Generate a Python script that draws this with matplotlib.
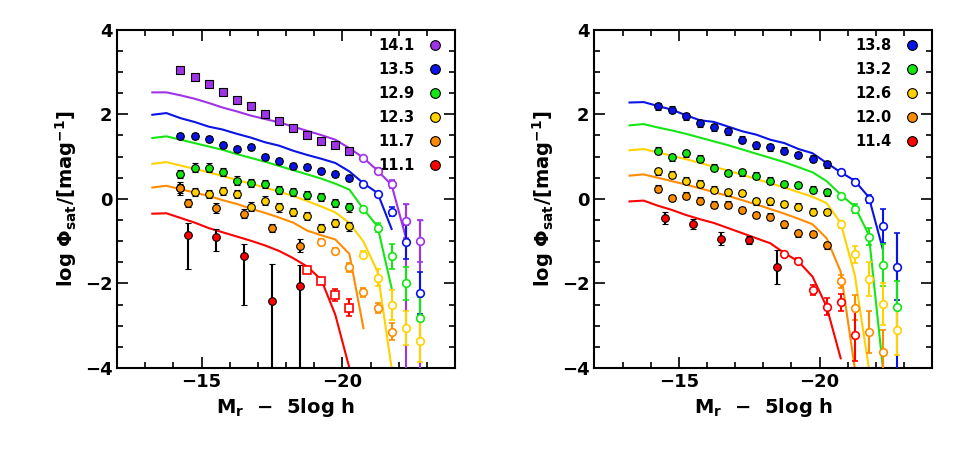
import numpy as np
import matplotlib.pyplot as plt
from matplotlib.ticker import MultipleLocator

plt.rcParams["font.family"] = ["DejaVu Sans"]
plt.rcParams["font.weight"] = "bold"

# magnitude bins (index 0 = -14.25, step 0.5)
bins = [-13.25, -13.75, -14.25, -14.75, -15.25, -15.75, -16.25, -16.75, -17.25, -17.75,
        -18.25, -18.75, -19.25, -19.75, -20.25, -20.75, -21.25, -21.75, -22.25, -22.75]
half = [-14.5, -15.5, -16.5, -17.5, -18.5]  # offset bins used by low-mass groups


def mb(i0, n):
    return bins[i0 + 2:i0 + 2 + n]


# ---------------- left panel ----------------
left_labels = ["14.1", "13.5", "12.9", "12.3", "11.7", "11.1"]
left_colors = ["#a033e8", "#0a14e6", "#14e614", "#ffd200", "#ff8c00", "#ff0000"]

left_lines = [
    [2.52, 2.52, 2.45, 2.37, 2.27, 2.16, 2.07, 1.97, 1.89, 1.81, 1.71, 1.61, 1.51, 1.40, 1.20, 0.97, 0.67, 0.33, -0.90],
    [1.99, 2.03, 1.91, 1.82, 1.71, 1.64, 1.54, 1.45, 1.34, 1.26, 1.14, 1.04, 0.95, 0.85, 0.65, 0.37, 0.14, -0.71],
    [1.44, 1.48, 1.40, 1.32, 1.24, 1.16, 1.06, 0.97, 0.88, 0.78, 0.68, 0.58, 0.48, 0.36, 0.22, -0.24, -0.65, -2.11],
    [0.83, 0.87, 0.79, 0.71, 0.63, 0.54, 0.45, 0.36, 0.27, 0.17, 0.07, -0.05, -0.18, -0.32, -0.57, -1.01, -1.72, -4.0],
    [0.27, 0.31, 0.23, 0.15, 0.07, -0.03, -0.12, -0.23, -0.33, -0.44, -0.56, -0.75, -0.86, -0.96, -1.30, -3.06],
    [-0.35, -0.34, -0.45, -0.56, -0.69, -0.79, -0.89, -0.99, -1.10, -1.23, -1.40, -1.60, -1.91, -2.74, -4.0],
]

# filled points (bins 0..12) and open points (bins 13..17)
left_fill = [
    [3.04, 2.88, 2.72, 2.54, 2.35, 2.20, 2.02, 1.85, 1.68, 1.52, 1.38, 1.28, 1.14],
    [1.48, 1.48, 1.42, 1.28, 1.18, 1.22, 1.00, 0.90, 0.78, 0.75, 0.65, 0.59, 0.49],
    [0.59, 0.74, 0.74, 0.63, 0.43, 0.37, 0.35, 0.21, 0.16, 0.09, 0.04, -0.10, -0.20],
    [0.25, 0.16, 0.11, 0.19, 0.11, -0.18, -0.04, -0.20, -0.31, -0.41, -0.69, -0.57, -0.65],
]
left_open = [
    [0.97, 0.67, 0.35, -0.53, -1.00],
    [0.36, 0.11, -0.30, -1.01, -2.23],
    [-0.24, -0.68, -1.36, -2.00, -2.82],
    [-1.32, -1.86, -2.51, -3.05, -3.36],
]
left_open_err = [
    [0.05, 0.06, 0.1, 0.4, 0.5],
    [0.05, 0.06, 0.1, 0.4, 0.5],
    [0.05, 0.1, 0.3, 0.4, 0.5],
    [0.08, 0.2, 0.35, 0.4, 0.5],
]

orange_l_x = [-14.25, -14.5, -15.5, -16.5, -17.5, -18.5]
orange_l_y = [0.25, -0.10, -0.21, -0.35, -0.69, -1.11]
orange_l_err = [0.15, 0.1, 0.12, 0.1, 0.1, 0.15]
orange_l_open_x = [-19.25, -19.75, -20.25, -20.75, -21.25, -21.75]
orange_l_open_y = [-1.02, -1.23, -1.62, -2.21, -2.59, -3.14]
orange_l_open_err = [0.08, 0.08, 0.1, 0.1, 0.12, 0.2]

red_l_y = [-0.85, -0.89, -1.36, -2.41, -2.07]
red_l_lo = [0.82, 0.35, 1.16, 1.6, 1.9]
red_l_hi = [0.28, 0.17, 0.29, 0.86, 0.51]
red_l_open_x = [-18.75, -19.25, -19.75, -20.25]
red_l_open_y = [-1.68, -1.94, -2.27, -2.57]
red_l_open_err = [0.06, 0.08, 0.15, 0.2]

# ---------------- right panel ----------------
right_labels = ["13.8", "13.2", "12.6", "12.0", "11.4"]
right_colors = ["#0a14e6", "#14e614", "#ffd200", "#ff8c00", "#ff0000"]

right_lines = [
    [2.28, 2.29, 2.20, 2.11, 1.98, 1.86, 1.82, 1.71, 1.60, 1.52, 1.40, 1.32, 1.18, 1.08, 0.85, 0.63, 0.43, 0.04, -1.20],
    [1.74, 1.77, 1.69, 1.62, 1.54, 1.45, 1.36, 1.27, 1.17, 1.07, 0.97, 0.87, 0.75, 0.63, 0.42, 0.10, -0.18, -0.85, -4.0],
    [1.15, 1.18, 1.10, 1.02, 0.94, 0.85, 0.76, 0.67, 0.57, 0.47, 0.37, 0.27, 0.16, 0.05, -0.10, -0.57, -1.80, -4.0],
    [0.55, 0.58, 0.50, 0.42, 0.34, 0.25, 0.16, 0.07, -0.03, -0.13, -0.24, -0.35, -0.47, -0.60, -0.93, -1.72, -4.0],
    [-0.06, -0.04, -0.16, -0.26, -0.38, -0.48, -0.57, -0.69, -0.81, -0.93, -1.05, -1.28, -1.48, -1.84, -2.55, -3.77],
]
right_fill = [
    [2.19, 2.11, 1.95, 1.79, 1.69, 1.60, 1.40, 1.27, 1.22, 1.14, 1.04, 0.95, 0.82],
    [1.14, 0.98, 1.08, 0.95, 0.74, 0.61, 0.63, 0.55, 0.43, 0.35, 0.33, 0.22, 0.16],
    [0.65, 0.57, 0.43, 0.36, 0.22, 0.16, 0.14, -0.06, -0.06, -0.12, -0.18, -0.30, -0.31],
    [0.24, 0.02, 0.08, -0.04, -0.14, -0.14, -0.26, -0.38, -0.42, -0.60, -0.81, -0.83, -1.10],
]
right_open = [
    [0.63, 0.41, 0.00, -0.65, -1.60],
    [0.07, -0.23, -0.89, -1.56, -2.55],
    [-0.60, -1.31, -1.89, -2.49, -3.10],
    [-1.95, -2.57, -3.14, -3.61],
]
right_open_err = [
    [0.05, 0.06, 0.1, 0.4, 0.8],
    [0.05, 0.1, 0.2, 0.5, 0.6],
    [0.08, 0.2, 0.4, 0.5, 0.6],
    [0.15, 0.3, 0.5, 0.5],
]
red_r_y = [-0.45, -0.60, -0.94, -0.97, -1.62]
red_r_err = [0.15, 0.12, 0.15, 0.1, 0.4]
red_r_open_x = [-18.75, -19.25, -19.75, -20.25, -20.75, -21.25]
red_r_open_y = [-1.30, -1.46, -2.15, -2.55, -2.44, -3.23]
red_r_open_err = [0.05, 0.06, 0.12, 0.2, 0.2, 0.6]

MS = 5.5


def fill_pts(ax, x, y, err, color, marker="o"):
    ax.errorbar(x, y, yerr=err, fmt=marker, ms=MS, mfc=color, mec="black", mew=0.8,
                ecolor="black", elinewidth=1.5, capsize=2.5, capthick=1.5, zorder=4)


def open_pts(ax, x, y, err, color, marker="o"):
    ax.errorbar(x, y, yerr=err, fmt=marker, ms=MS, mfc="white", mec=color, mew=1.2,
                ecolor=color, elinewidth=1.5, capsize=2.5, capthick=1.5, zorder=4)


def style(ax, labels, colors):
    ax.set_xlim(-12, -24)
    ax.set_ylim(-4, 4)
    ax.xaxis.set_major_locator(MultipleLocator(5))
    ax.xaxis.set_minor_locator(MultipleLocator(1))
    ax.yaxis.set_major_locator(MultipleLocator(2))
    ax.yaxis.set_minor_locator(MultipleLocator(0.5))
    ax.tick_params(which="both", direction="in", top=True, right=True, labelsize=13, width=1.2)
    ax.tick_params(which="major", length=8)
    ax.tick_params(which="minor", length=4)
    for s in ax.spines.values():
        s.set_linewidth(1.5)
    ax.set_xlabel(r"$\mathbf{M_r}$  $-$  5log h", fontsize=14, fontweight="bold")
    ax.set_ylabel(r"log $\mathbf{\Phi_{sat}}$/[mag$^{\mathbf{-1}}$]", fontsize=14, fontweight="bold")
    for k, (lab, c) in enumerate(zip(labels, colors)):
        yy = 0.955 - k * 0.071
        ax.text(0.88, yy, lab, transform=ax.transAxes, ha="right", va="center",
                fontsize=10.5, fontweight="bold")
        ax.plot([0.94], [yy], "o", transform=ax.transAxes, ms=7, mfc=c, mec="black", mew=0.8)


fig = plt.figure(figsize=(9.68, 4.73), dpi=100)
axl = fig.add_axes([0.121, 0.222, 0.349, 0.715])
axr = fig.add_axes([0.614, 0.222, 0.349, 0.715])

# left
for vals, c in zip(left_lines, left_colors):
    axl.plot(mb(-2, len(vals)), vals, color=c, lw=1.5, zorder=2)
for k in range(4):
    fill_pts(axl, mb(0, 13), left_fill[k], 0.07 if k < 2 else 0.1, left_colors[k], "s" if k == 0 else "o")
    open_pts(axl, mb(13, 5), left_open[k], left_open_err[k], left_colors[k])
# purple and blue faint end error bars reach bottom
axl.errorbar(bins[18:20], left_open[0][3:], yerr=[[4, 4], [0.4, 0.5]], fmt="none",
             ecolor=left_colors[0], elinewidth=1.5, capsize=2.5, zorder=3)
fill_pts(axl, orange_l_x, orange_l_y, orange_l_err, left_colors[4])
open_pts(axl, orange_l_open_x, orange_l_open_y, orange_l_open_err, left_colors[4])
fill_pts(axl, half, red_l_y, [red_l_lo, red_l_hi], left_colors[5])
open_pts(axl, red_l_open_x, red_l_open_y, red_l_open_err, left_colors[5], "s")
style(axl, left_labels, left_colors)

# right
for vals, c in zip(right_lines, right_colors):
    axr.plot(mb(-2, len(vals)), vals, color=c, lw=1.5, zorder=2)
for k in range(4):
    fill_pts(axr, mb(0, 13), right_fill[k], 0.08, right_colors[k])
    n = len(right_open[k])
    open_pts(axr, mb(13, n), right_open[k], right_open_err[k], right_colors[k])
axr.errorbar([bins[19]], [right_open[0][4]], yerr=[[4], [0.8]], fmt="none",
             ecolor=right_colors[0], elinewidth=1.5, zorder=3)
fill_pts(axr, half, red_r_y, red_r_err, right_colors[4])
open_pts(axr, red_r_open_x, red_r_open_y, red_r_open_err, right_colors[4])
style(axr, right_labels, right_colors)

fig.savefig("out.png", dpi=100)
